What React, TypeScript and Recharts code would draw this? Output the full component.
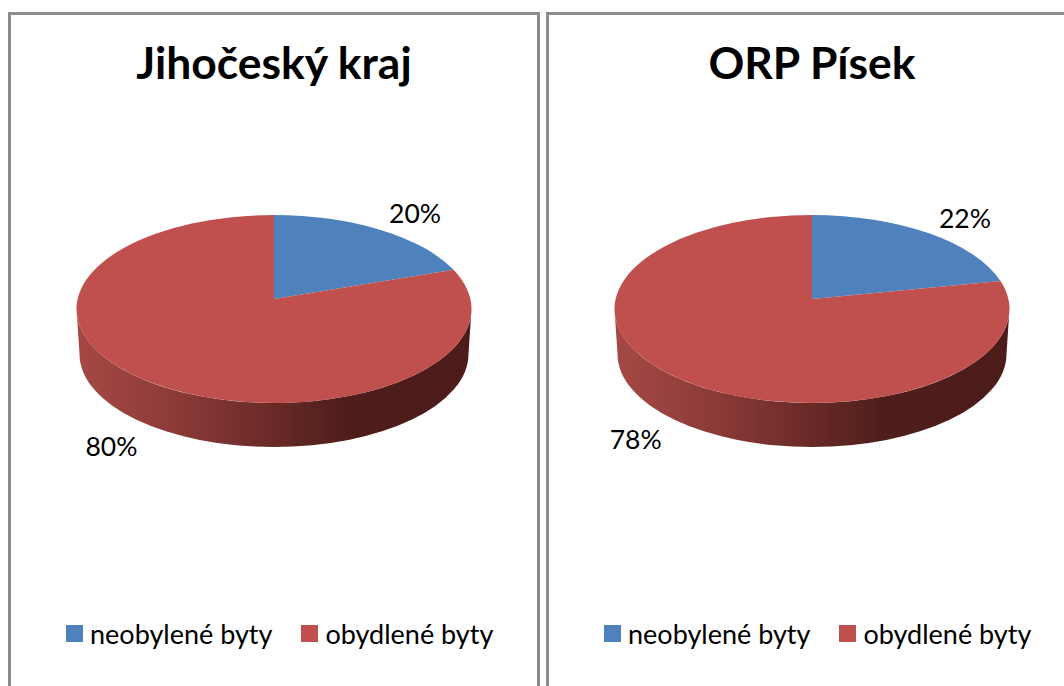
import { Legend, Pie, PieChart } from "recharts";

// Two fake-3D pies: share of empty vs. occupied flats (region and ORP).

const categories = ["neobylené byty", "obydlené byty"];
const colors = ["#4F81BD", "#C0504D"];
const krajValues = [20, 80];
const orpValues = [22, 78];

const FONT = "Lato, Carlito, sans-serif";
const SQUASH = 0.476; // ellipse ry / rx
const TILT = 0.5; // vertical squash of the slice edges
const APEX_LIFT = 10; // the perspective pushes the pie centre above the ellipse centre
const DEPTH = 45;

// where a slice edge at clock angle deg meets the rim
function rimPoint(cx: number, cy: number, rx: number, deg: number) {
  const ry = rx * SQUASH;
  const rad = (deg * Math.PI) / 180;
  const dx = Math.sin(rad);
  const dy = TILT * Math.cos(rad);
  const a = (dx * dx) / (rx * rx) + (dy * dy) / (ry * ry);
  const b = (2 * dy * APEX_LIFT) / (ry * ry);
  const c = (APEX_LIFT * APEX_LIFT) / (ry * ry) - 1;
  const t = (-b + Math.sqrt(b * b - 4 * a * c)) / (2 * a);
  const x = dx * t;
  const y = APEX_LIFT + dy * t;
  const param = (Math.atan2(x / rx, y / ry) * 180) / Math.PI;
  return { x: cx + x, y: cy - y, param: (param + 360) % 360 };
}

function Slice(props: any) {
  const { cx, cy, outerRadius, startAngle, endAngle, fill, index } = props;
  const rx = outerRadius;
  const ry = rx * SQUASH;
  const from = 90 - startAngle;
  const to = 90 - endAngle;
  const p1 = rimPoint(cx, cy, rx, from);
  const p2 = rimPoint(cx, cy, rx, to);
  let sweep = p2.param - p1.param;
  if (sweep <= 0) sweep += 360;
  const large = sweep > 180 ? 1 : 0;
  const showsFront = from < 180 && to > 180;
  const rx2 = rx - 3;
  const ry2 = ry - 1;
  return (
    <g>
      {showsFront && (
        <path
          d={`M ${cx - rx} ${cy} A ${rx} ${ry} 0 0 0 ${cx + rx} ${cy} L ${cx + rx2} ${cy + DEPTH} A ${rx2} ${ry2} 0 0 1 ${cx - rx2} ${cy + DEPTH} Z`}
          fill={`url(#wall-${index}-${Math.round(from)})`}
        />
      )}
      <defs>
        <linearGradient id={`wall-${index}-${Math.round(from)}`} x1="0" x2="1" y1="0" y2="0">
          <stop offset="0" stopColor="#A54845" />
          <stop offset="0.25" stopColor="#8C3B38" />
          <stop offset="0.5" stopColor="#692A27" />
          <stop offset="0.67" stopColor="#4F1E1C" />
          <stop offset="1" stopColor="#4C1C1A" />
        </linearGradient>
      </defs>
      <path
        d={`M ${cx} ${cy - APEX_LIFT} L ${p1.x} ${p1.y} A ${rx} ${ry} 0 ${large} 1 ${p2.x} ${p2.y} Z`}
        fill={fill}
      />
    </g>
  );
}

function sliceLabel(props: any) {
  const { cx, cy, midAngle, outerRadius, value } = props;
  const rad = (midAngle * Math.PI) / 180;
  const front = Math.sin(rad) < 0;
  const rx = outerRadius * (front ? 1.4 : 1.215);
  const ry = outerRadius * (front ? 0.855 : 0.6);
  return (
    <text
      x={cx + rx * Math.cos(rad)}
      y={cy - ry * Math.sin(rad)}
      textAnchor="middle"
      dominantBaseline="central"
      fontFamily={FONT}
      fontSize={26.5}
      fill="#000"
    >
      {value}%
    </text>
  );
}

function LegendRow({ payload }: any) {
  return (
    <div style={{ display: "flex", alignItems: "center", paddingLeft: 58, fontFamily: FONT, fontSize: 27, color: "#000" }}>
      {(payload || []).map((item: any, i: number) => (
        <div key={item.value} style={{ display: "flex", alignItems: "center", marginRight: i === 0 ? 29 : 0 }}>
          <span style={{ width: 17, height: 17, background: item.color, marginRight: 7 }} />
          <span style={{ whiteSpace: "nowrap" }}>{item.value}</span>
        </div>
      ))}
    </div>
  );
}

function Panel({ title, values, left }: { title: string; values: number[]; left: number }) {
  const data = categories.map((name, i) => ({ name, value: values[i], fill: colors[i] }));
  return (
    <div
      style={{
        position: "absolute",
        left,
        top: 12,
        width: 532,
        height: 680,
        boxSizing: "border-box",
        border: "3px solid #8C8C8C",
        background: "#fff",
      }}
    >
      <div
        style={{
          position: "absolute",
          top: 20,
          width: "100%",
          textAlign: "center",
          fontFamily: FONT,
          fontWeight: 700,
          fontSize: 44.4,
          color: "#000",
        }}
      >
        {title}
      </div>
      <div style={{ position: "absolute", left: -3, top: -15 }}>
        <PieChart width={530} height={686}>
          <Pie
            data={data}
            dataKey="value"
            nameKey="name"
            cx={261}
            cy={304}
            outerRadius={197.5}
            startAngle={90}
            endAngle={-270}
            stroke="none"
            shape={Slice}
            label={sliceLabel}
            labelLine={false}
            isAnimationActive={false}
          />
          <Legend
            content={LegendRow}
            wrapperStyle={{ left: 0, top: 617, width: 530 }}
          />
        </PieChart>
      </div>
    </div>
  );
}

export default function App() {
  return (
    <div style={{ position: "fixed", inset: 0, width: 1064, height: 686, overflow: "hidden", background: "#fff" }}>
      <Panel title="Jihočeský kraj" values={krajValues} left={8} />
      <Panel title="ORP Písek" values={orpValues} left={546} />
    </div>
  );
}
